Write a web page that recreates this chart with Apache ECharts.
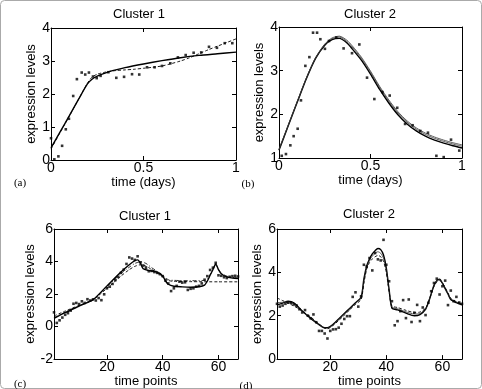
<!DOCTYPE html>
<html>
<head>
<meta charset="utf-8">
<script src="https://cdn.jsdelivr.net/npm/echarts@6/dist/echarts.min.js"></script>
<style>
  html, body { margin: 0; padding: 0; background: #fff; }
  #chart { width: 482px; height: 389px; }
</style>
</head>
<body>
<div id="chart"></div>
<script>
// panel (a) - Cluster 1, time in days
const aDotX = [0, 0.018, 0.04, 0.06, 0.08, 0.097, 0.12, 0.14, 0.166, 0.185, 0.205, 0.227, 0.247, 0.268, 0.31, 0.353, 0.395, 0.438, 0.477, 0.519, 0.56, 0.6, 0.645, 0.686, 0.728, 0.771, 0.812, 0.854, 0.897, 0.939, 0.98]
const aDotY = [0.66, 0.02, 0.11, 0.43, 0.93, 1.25, 1.94, 2.45, 2.65, 2.59, 2.65, 2.53, 2.48, 2.55, 2.66, 2.49, 2.52, 2.6, 2.59, 2.81, 2.81, 2.85, 2.93, 3.11, 3.18, 3.25, 3.26, 3.43, 3.4, 3.54, 3.54]
const aFitX = [0, 0.05, 0.1, 0.15, 0.196, 0.22, 0.25, 0.3, 0.35, 0.4, 0.5, 0.6, 0.7, 0.8, 0.9, 1.0]
const aFitY = [0.37, 0.86, 1.35, 1.85, 2.3, 2.44, 2.54, 2.65, 2.73, 2.8, 2.91, 3.01, 3.1, 3.17, 3.22, 3.27]
const aDashX = [0, 0.05, 0.1, 0.15, 0.196, 0.22, 0.25, 0.3, 0.35, 0.4, 0.45, 0.5, 0.55, 0.6, 0.65, 0.7, 0.75, 0.8, 0.85, 0.9, 0.95, 1.0]
const aDashY = [0.33, 0.84, 1.34, 1.85, 2.32, 2.5, 2.6, 2.67, 2.71, 2.73, 2.75, 2.78, 2.81, 2.85, 2.92, 3.0, 3.1, 3.22, 3.34, 3.45, 3.56, 3.67]

// panel (b) - Cluster 2, time in days
const bDotX = [0.015, 0.038, 0.062, 0.08, 0.102, 0.12, 0.144, 0.166, 0.186, 0.208, 0.226, 0.251, 0.273, 0.313, 0.353, 0.399, 0.439, 0.481, 0.521, 0.565, 0.605, 0.646, 0.689, 0.73, 0.772, 0.814, 0.86, 0.9, 0.94, 0.985]
const bDotY = [1.05, 1.09, 1.29, 1.5, 1.67, 2.32, 3.11, 3.31, 3.87, 3.87, 3.72, 3.5, 3.68, 3.76, 3.51, 3.4, 3.6, 2.84, 2.35, 2.51, 2.43, 2.15, 1.78, 1.75, 1.62, 1.58, 1.05, 1.02, 1.42, 1.17]
const bFitX = [0, 0.05, 0.1, 0.15, 0.2, 0.25, 0.29, 0.33, 0.37, 0.4, 0.45, 0.5, 0.55, 0.6, 0.65, 0.7, 0.75, 0.8, 0.85, 0.9, 0.95, 1.0]
const bFitY = [1.18, 1.73, 2.28, 2.82, 3.28, 3.58, 3.71, 3.74, 3.64, 3.5, 3.24, 2.92, 2.57, 2.26, 1.99, 1.78, 1.62, 1.5, 1.41, 1.34, 1.28, 1.23]
const bMidY = [1.19, 1.74, 2.29, 2.83, 3.29, 3.6, 3.73, 3.77, 3.67, 3.54, 3.28, 2.96, 2.61, 2.3, 2.03, 1.82, 1.66, 1.54, 1.45, 1.38, 1.32, 1.27]
const bDashY = [1.2, 1.75, 2.3, 2.84, 3.3, 3.61, 3.75, 3.79, 3.7, 3.57, 3.31, 2.99, 2.64, 2.33, 2.06, 1.85, 1.69, 1.57, 1.48, 1.41, 1.35, 1.3]

// panel (c) - Cluster 1, one dot per time point 1..67
const cDots = [0.87, 0.22, 0.38, 0.55, 0.72, 0.82, 0.98, 1.4, 1.45, 1.38, 1.55, 1.45, 1.68, 1.6, 1.67, 1.6, 1.75, 1.62, 1.98, 2.35,
  2.45, 2.62, 2.85, 3.05, 3.3, 3.5, 3.85, 4.25, 4.18, 4.1, 4.32, 3.95, 3.75, 3.62, 3.4, 3.42, 3.35, 3.3, 3.22, 3.1,
  2.82, 2.65, 2.18, 2.35, 2.5, 2.76, 2.7, 2.72, 2.25, 2.32, 2.35, 2.45, 2.5, 2.65, 2.88, 3.1, 3.48, 3.62, 3.92, 3.15,
  3.12, 3.03, 2.98, 3.06, 3.1, 3.12, 3.08]
const cFitX = [1, 5, 10, 15, 20, 25, 28, 30, 31, 32, 33, 35, 38, 40, 41, 42, 44, 47, 50, 53, 55, 56, 57, 58, 59, 60, 61, 63, 65, 67]
const cFitY = [0.5, 0.85, 1.25, 1.65, 2.5, 3.35, 3.8, 4.05, 4.1, 3.9, 3.55, 3.45, 3.35, 3.1, 2.8, 2.6, 2.48, 2.44, 2.42, 2.45, 2.55, 2.8, 3.15, 3.5, 3.85, 3.5, 3.25, 3.05, 2.98, 2.95]
const cMidX = [1, 5, 10, 15, 20, 25, 28, 30, 32, 34, 36, 38, 40, 42, 44, 50, 55, 56, 57, 58, 59, 60, 61, 63, 65, 67]
const cMidY = [0.55, 0.88, 1.28, 1.65, 2.45, 3.25, 3.65, 3.88, 3.98, 3.88, 3.62, 3.4, 3.15, 2.88, 2.84, 2.82, 2.84, 2.95, 3.2, 3.5, 3.8, 3.5, 3.28, 3.1, 3.02, 3.0]
const cDashX = [1, 5, 10, 15, 20, 25, 28, 30, 32, 33, 35, 38, 40, 41, 42, 44, 50, 60, 67]
const cDashY = [0.65, 0.95, 1.3, 1.65, 2.35, 3.1, 3.5, 3.7, 3.8, 3.78, 3.62, 3.3, 3.05, 2.92, 2.83, 2.78, 2.76, 2.75, 2.75]

// panel (d) - Cluster 2, one dot per time point 1..67
const dDots = [2.55, 2.42, 2.47, 2.55, 2.6, 2.6, 2.52, 2.47, 2.3, 2.15, 2.26, 2.0, 1.88, 2.06, 1.7, 1.3, 1.3, 1.18, 0.95, 1.3,
  1.37, 1.38, 1.45, 1.63, 1.85, 1.98, 1.98, 2.87, 3.08, 2.42, 2.9, 4.35, 4.27, 4.66, 4.09, 4.89, 4.6, 4.55, 5.5, 4.35,
  3.59, 2.67, 1.56, 1.75, 2.21, 2.72, 1.89, 2.75, 1.71, 2.14, 2.5, 1.75, 2.38, 2.03, 2.6, 3.13, 3.51, 3.71, 2.98, 3.36,
  3.62, 2.49, 3.16, 2.67, 2.87, 2.61, 2.55]
const dFitX = [1, 3, 5, 7, 9, 11, 13, 15, 17, 18, 19, 21, 23, 25, 27, 29, 31, 32, 33, 34, 35, 36, 37, 38, 39, 40, 41, 42, 44, 47, 50, 52, 54, 55, 56, 57, 58, 59, 60, 61, 62, 63, 65, 67]
const dFitY = [2.5, 2.58, 2.67, 2.6, 2.35, 2.1, 1.88, 1.68, 1.5, 1.45, 1.45, 1.6, 1.85, 2.1, 2.35, 2.6, 2.85, 3.7, 4.3, 4.62, 4.85, 5.0, 5.1, 5.05, 4.8, 4.2, 3.2, 2.35, 2.27, 2.12, 2.0, 2.05, 2.3, 2.6, 3.0, 3.4, 3.62, 3.68, 3.5, 3.25, 3.0, 2.75, 2.6, 2.5]
const dMidY = [2.6, 2.62, 2.63, 2.55, 2.32, 2.1, 1.9, 1.7, 1.5, 1.43, 1.42, 1.58, 1.82, 2.07, 2.32, 2.57, 2.82, 3.6, 4.22, 4.55, 4.75, 4.88, 4.95, 4.88, 4.65, 4.1, 3.15, 2.4, 2.32, 2.18, 2.08, 2.1, 2.32, 2.62, 3.0, 3.38, 3.6, 3.66, 3.52, 3.28, 3.02, 2.78, 2.63, 2.52]
const dDashY = [2.82, 2.7, 2.58, 2.45, 2.3, 2.12, 1.95, 1.72, 1.52, 1.42, 1.4, 1.55, 1.78, 2.02, 2.28, 2.52, 2.75, 3.5, 4.15, 4.45, 4.62, 4.72, 4.78, 4.72, 4.5, 4.0, 3.1, 2.45, 2.38, 2.25, 2.15, 2.17, 2.35, 2.62, 3.0, 3.35, 3.55, 3.62, 3.52, 3.3, 3.05, 2.8, 2.65, 2.55]

// tick labels
const dayTicks = [0, 0.5, 1]
const timeTicks = [20, 40, 60]

const FONT = 'Liberation Sans, Arial, sans-serif'
const SERIF = 'Liberation Serif, Times New Roman, serif'

const zip = (xs, ys) => xs.map((x, i) => [x, ys[i]])
const idx = (ys) => ys.map((y, i) => [i + 1, y])

const grids = [
  { left: 51, top: 28, width: 185, height: 132 },
  { left: 279, top: 27, width: 183, height: 131 },
  { left: 54, top: 229, width: 184, height: 130 },
  { left: 277, top: 229, width: 185, height: 131 }
]

const lineCol = { color: '#000', width: 1 }

// 主坐标轴 + 镜像坐标轴（matlab 风格的方框）
const makeX = (gi, min, max, ticks, name, gap) => [
  {
    gridIndex: gi, type: 'value', min, max,
    axisLine: { onZero: false, lineStyle: lineCol },
    axisTick: { inside: true, length: 4, customValues: ticks, lineStyle: lineCol },
    axisLabel: { customValues: ticks, color: '#000', fontSize: 14, fontFamily: FONT, margin: 1 },
    splitLine: { show: false },
    name, nameLocation: 'middle', nameGap: gap,
    nameTextStyle: { color: '#000', fontSize: 13, fontFamily: FONT }
  },
  {
    gridIndex: gi, type: 'value', min, max, position: 'top',
    axisLine: { onZero: false, lineStyle: lineCol },
    axisTick: { inside: true, length: 4, customValues: ticks, lineStyle: lineCol },
    axisLabel: { show: false },
    splitLine: { show: false }
  }
]

const makeY = (gi, min, max, interval, gap) => [
  {
    gridIndex: gi, type: 'value', min, max, interval, position: 'left',
    axisLine: { onZero: false, lineStyle: lineCol },
    axisTick: { inside: true, length: 4, lineStyle: lineCol },
    axisLabel: { color: '#000', fontSize: 14, fontFamily: FONT, margin: 1 },
    splitLine: { show: false },
    name: 'expression levels', nameLocation: 'middle', nameGap: gap,
    nameTextStyle: { color: '#000', fontSize: 13, fontFamily: FONT }
  },
  {
    gridIndex: gi, type: 'value', min, max, interval, position: 'right',
    axisLine: { onZero: false, lineStyle: lineCol },
    axisTick: { inside: true, length: 4, lineStyle: lineCol },
    axisLabel: { show: false },
    splitLine: { show: false }
  }
]

const xAxes = [
  ...makeX(0, 0, 1, dayTicks, 'time (days)', 13),
  ...makeX(1, 0, 1, dayTicks, 'time (days)', 11),
  ...makeX(2, 1, 67, timeTicks, 'time points', 14),
  ...makeX(3, 1, 67, timeTicks, 'time points', 15)
]
const yAxes = [
  ...makeY(0, 0, 4, 1, 6.5),
  ...makeY(1, 1, 4, 1, 8.5),
  ...makeY(2, -2, 6, 2, 9.5),
  ...makeY(3, 0, 6, 2, 11.5)
]

const dots = (p, data) => ({
  type: 'scatter', xAxisIndex: p * 2, yAxisIndex: p * 2, data,
  symbol: 'rect', symbolSize: 2.6, itemStyle: { color: '#000' }, z: 3
})
const curve = (p, data, style) => ({
  type: 'line', xAxisIndex: p * 2, yAxisIndex: p * 2, data,
  showSymbol: false, smooth: 0.25, lineStyle: style, z: 2
})

const solid = { color: '#000', width: 1.4 }
const thin = { color: '#333', width: 0.8 }
const dashed = { color: '#000', width: 0.9, type: [3, 2] }

const series = [
  dots(0, zip(aDotX, aDotY)),
  curve(0, zip(aFitX, aFitY), solid),
  curve(0, zip(aDashX, aDashY), dashed),

  dots(1, zip(bDotX, bDotY)),
  curve(1, zip(bFitX, bFitY), solid),
  curve(1, zip(bFitX, bMidY), thin),
  curve(1, zip(bFitX, bDashY), thin),

  dots(2, idx(cDots)),
  curve(2, zip(cFitX, cFitY), solid),
  curve(2, zip(cMidX, cMidY), { color: '#000', width: 0.8, type: [4, 2, 1, 2] }),
  curve(2, zip(cDashX, cDashY), dashed),

  dots(3, idx(dDots)),
  curve(3, zip(dFitX, dFitY), solid),
  curve(3, zip(dFitX, dMidY), thin),
  curve(3, zip(dFitX, dDashY), dashed)
]

const label = (x, y, text, font) => ({
  type: 'text', x, y,
  style: { text, font, fill: '#000', align: 'center', verticalAlign: 'middle' }
})

const chart = echarts.init(document.getElementById('chart'))
chart.setOption({
  animation: false,
  backgroundColor: '#fff',
  grid: grids,
  xAxis: xAxes,
  yAxis: yAxes,
  series,
  graphic: [
    { type: 'rect', shape: { x: 0.5, y: 0.5, width: 481, height: 388, r: 4 }, style: { fill: 'none', stroke: '#aaa', lineWidth: 1 } },
    label(139, 14, 'Cluster 1', '13px ' + FONT),
    label(370, 14, 'Cluster 2', '13px ' + FONT),
    label(145, 216, 'Cluster 1', '13px ' + FONT),
    label(369, 214, 'Cluster 2', '13px ' + FONT),
    label(20, 183, '(a)', '11px ' + SERIF),
    label(248, 184, '(b)', '11px ' + SERIF),
    label(20, 384, '(c)', '11px ' + SERIF),
    label(246, 386, '(d)', '11px ' + SERIF)
  ]
})
</script>
</body>
</html>
